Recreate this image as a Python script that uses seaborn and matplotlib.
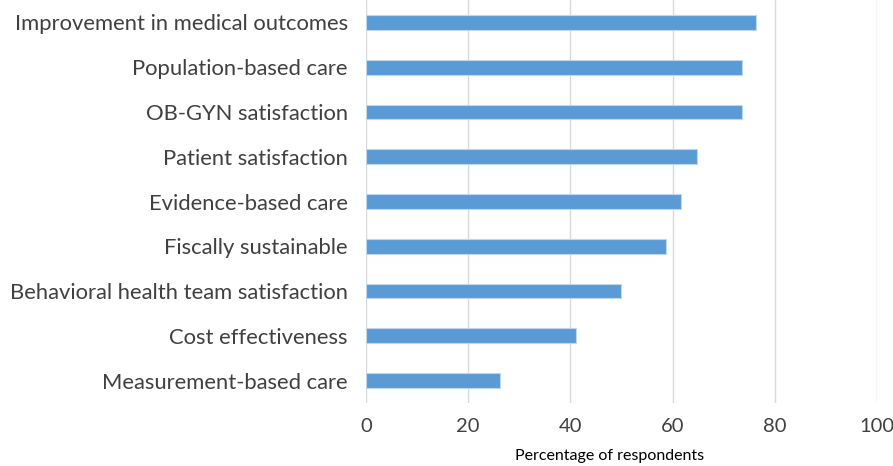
import numpy as np
import pandas as pd
import matplotlib
matplotlib.use('Agg')
import matplotlib.pyplot as plt
import seaborn as sns

# 데이터
categories = ['Improvement in medical outcomes', 'Population-based care', 'OB-GYN satisfaction',
              'Patient satisfaction', 'Evidence-based care', 'Fiscally sustainable',
              'Behavioral health team satisfaction', 'Cost effectiveness', 'Measurement-based care']
values = [76.4, 73.6, 73.6, 64.7, 61.7, 58.7, 49.9, 41.0, 26.3]

df = pd.DataFrame({'category': categories, 'pct': values})

sns.set_style('white')
plt.rcParams['font.family'] = ['Lato', 'DejaVu Sans']

fig = plt.figure(figsize=(8.93, 4.66), dpi=100)
ax = fig.add_axes([366 / 893, 1 - 403 / 466, (877 - 366) / 893, 403 / 466])

sns.barplot(data=df, x='pct', y='category', color='#5B9BD5', width=0.33,
            edgecolor='#BDD7EE', linewidth=0.8, saturation=1, ax=ax, zorder=3)

ax.set_xlim(0, 100)
ax.set_xticks(np.arange(0, 101, 20))
ax.grid(axis='x', color='#D9D9D9', linewidth=1, zorder=0)
ax.set_axisbelow(True)
for s in ax.spines.values():
    s.set_visible(False)

ax.tick_params(axis='both', length=0, labelcolor='#404040')
ax.tick_params(axis='y', pad=13, labelsize=15.8)
ax.tick_params(axis='x', pad=11, labelsize=14.5)
ax.set_ylabel('')
ax.set_xlabel('Percentage of respondents', fontsize=11.5, color='black')
ax.xaxis.set_label_coords(0.477, -0.115)

fig.savefig('out.png', dpi=100)
